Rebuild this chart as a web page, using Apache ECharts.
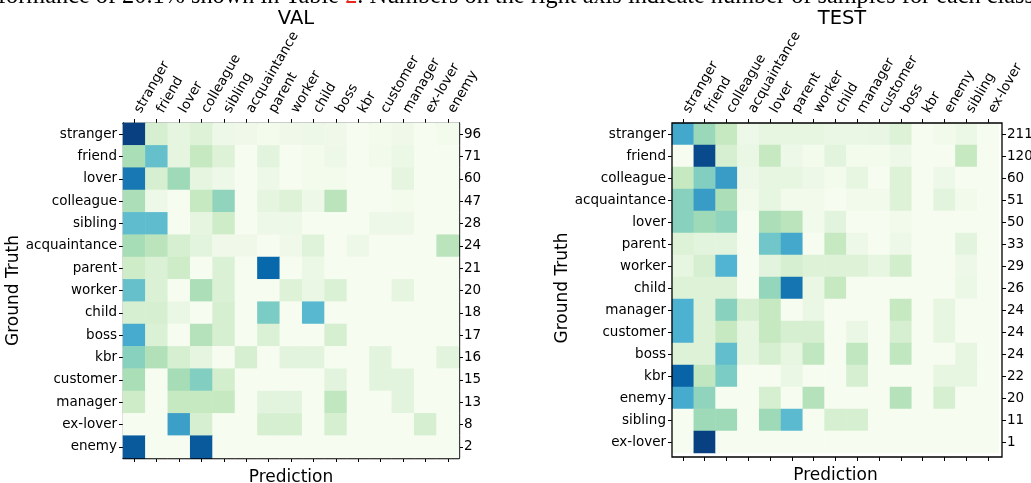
<!DOCTYPE html>
<html>
<head>
<meta charset="utf-8">
<script src="https://cdn.jsdelivr.net/npm/echarts@6/dist/echarts.min.js"></script>
<style>
html,body{margin:0;padding:0;background:#fff;}
#c{width:1031px;height:483px;}
</style>
</head>
<body>
<div id="c"></div>
<script>
// ---------- DATA ----------
const valCats = ['stranger','friend','lover','colleague','sibling','acquaintance','parent','worker','child','boss','kbr','customer','manager','ex-lover','enemy'];
const valCounts = ['96','71','60','47','28','24','21','20','18','17','16','15','13','8','2'];
// rows = ground truth, cols = prediction (normalised colour level)
const valMatrix = [
  [1.00,0.18,0.10,0.14,0.05,0.04,0.02,0.04,0.05,0.04,0.00,0.02,0.04,0.00,0.02],
  [0.37,0.56,0.10,0.27,0.14,0.00,0.11,0.00,0.02,0.05,0.00,0.03,0.06,0.00,0.00],
  [0.82,0.18,0.40,0.10,0.05,0.00,0.05,0.00,0.02,0.02,0.00,0.00,0.10,0.00,0.00],
  [0.36,0.05,0.00,0.27,0.44,0.00,0.10,0.14,0.05,0.31,0.00,0.00,0.02,0.00,0.00],
  [0.58,0.58,0.00,0.10,0.24,0.00,0.05,0.05,0.00,0.00,0.00,0.05,0.05,0.00,0.00],
  [0.38,0.31,0.19,0.11,0.04,0.04,0.00,0.04,0.13,0.00,0.05,0.00,0.00,0.00,0.31],
  [0.24,0.16,0.24,0.00,0.16,0.00,0.875,0.00,0.06,0.00,0.00,0.00,0.00,0.00,0.00],
  [0.56,0.16,0.00,0.36,0.16,0.00,0.00,0.14,0.07,0.16,0.00,0.00,0.10,0.00,0.00],
  [0.18,0.18,0.07,0.00,0.18,0.00,0.50,0.00,0.60,0.00,0.00,0.00,0.00,0.00,0.00],
  [0.65,0.16,0.00,0.33,0.19,0.00,0.16,0.00,0.00,0.18,0.00,0.00,0.00,0.00,0.00],
  [0.46,0.34,0.18,0.10,0.00,0.19,0.00,0.11,0.11,0.00,0.00,0.11,0.00,0.00,0.11],
  [0.37,0.00,0.38,0.48,0.21,0.00,0.00,0.00,0.00,0.11,0.00,0.11,0.11,0.00,0.00],
  [0.24,0.00,0.27,0.27,0.27,0.00,0.11,0.11,0.00,0.29,0.00,0.00,0.11,0.00,0.00],
  [0.00,0.00,0.69,0.19,0.00,0.00,0.19,0.19,0.00,0.19,0.00,0.00,0.00,0.19,0.00],
  [0.92,0.00,0.00,0.92,0.00,0.00,0.00,0.00,0.00,0.00,0.00,0.00,0.00,0.00,0.00]
];

const testCats = ['stranger','friend','colleague','acquaintance','lover','parent','worker','child','manager','customer','boss','kbr','enemy','sibling','ex-lover'];
const testCounts = ['211','120','60','51','50','33','29','26','24','24','24','22','20','11','1'];
const testMatrix = [
  [0.66,0.41,0.27,0.05,0.09,0.09,0.09,0.07,0.07,0.08,0.14,0.00,0.03,0.06,0.00],
  [0.00,0.97,0.19,0.07,0.27,0.05,0.02,0.11,0.02,0.02,0.05,0.00,0.00,0.27,0.00],
  [0.27,0.48,0.70,0.05,0.09,0.09,0.05,0.02,0.09,0.00,0.14,0.00,0.05,0.00,0.00],
  [0.46,0.70,0.36,0.03,0.09,0.03,0.03,0.00,0.03,0.03,0.14,0.00,0.11,0.03,0.00],
  [0.46,0.40,0.44,0.00,0.36,0.31,0.03,0.11,0.00,0.00,0.03,0.00,0.00,0.00,0.00],
  [0.14,0.11,0.11,0.00,0.53,0.66,0.00,0.27,0.05,0.00,0.05,0.00,0.00,0.11,0.00],
  [0.09,0.19,0.62,0.00,0.11,0.19,0.14,0.14,0.14,0.09,0.21,0.00,0.00,0.05,0.00],
  [0.14,0.14,0.14,0.00,0.43,0.83,0.07,0.27,0.00,0.00,0.00,0.00,0.00,0.06,0.00],
  [0.63,0.14,0.46,0.19,0.27,0.00,0.07,0.00,0.00,0.00,0.27,0.00,0.09,0.00,0.00],
  [0.63,0.14,0.27,0.09,0.27,0.19,0.19,0.00,0.07,0.00,0.19,0.00,0.09,0.00,0.00],
  [0.14,0.14,0.57,0.09,0.19,0.09,0.29,0.00,0.29,0.00,0.29,0.00,0.00,0.09,0.00],
  [0.89,0.29,0.50,0.00,0.00,0.07,0.00,0.00,0.19,0.00,0.00,0.00,0.09,0.09,0.00],
  [0.65,0.44,0.00,0.00,0.19,0.00,0.33,0.00,0.00,0.00,0.33,0.00,0.19,0.00,0.00],
  [0.00,0.40,0.40,0.00,0.40,0.59,0.00,0.19,0.19,0.00,0.00,0.00,0.00,0.00,0.00],
  [0.00,1.00,0.00,0.00,0.00,0.00,0.00,0.00,0.00,0.00,0.00,0.00,0.00,0.00,0.00]
];

const panelTitles = ['VAL','TEST'];
const xName = 'Prediction';
const yName = 'Ground Truth';
const paperPre = 'formance of 20.1% shown in Table ';
const paperRef = '2';
const paperPost = '. Numbers on the right axis indicate number of samples for each class.';

// ---------- LAYOUT ----------
const FONT = 'DejaVu Sans';
const GnBu = ['#f7fcf0','#e0f3db','#ccebc5','#a8ddb5','#7bccc4','#4eb3d3','#2b8cbe','#0868ac','#084081'];
const G0 = {left:123, top:123, width:336, height:335, outerBoundsMode:'none', containLabel:false};
const G1 = {left:672, top:123, width:327, height:330, outerBoundsMode:'none', containLabel:false};
const F1 = {x:672, y:123, w:330, h:334}; // test frame slightly larger than image

function toData(m){
  const out = [];
  m.forEach((row,i)=>row.forEach((v,j)=>out.push([j,i,v])));
  return out;
}

const labelStyle = {fontFamily:FONT, fontSize:13.5, color:'#000'};
const tick = {show:true, inside:false, length:4, alignWithLabel:true, interval:0, lineStyle:{color:'#000', width:1}};

function topX(gi, cats){
  return {type:'category', gridIndex:gi, position:'top', data:cats,
    axisLine:{show:gi===0, lineStyle:{color:'#000', width:1.3}},
    axisTick:tick, axisLabel:Object.assign({rotate:-60, margin:5, interval:0, padding:[7,0,0,7]}, labelStyle),
    splitLine:{show:false}};
}
function bottomX(gi, cats, off){
  return {type:'category', gridIndex:gi, position:'bottom', data:cats, offset:off,
    axisLine:{show:gi===0, lineStyle:{color:'#000', width:1.3}},
    axisTick:tick, axisLabel:{show:false, interval:0},
    name:xName, nameLocation:'middle', nameGap:gi===0?11:10,
    nameTextStyle:{fontFamily:FONT, fontSize:17, color:'#000'}};
}
function leftY(gi, cats){
  return {type:'category', gridIndex:gi, position:'left', data:cats, inverse:true,
    axisLine:{show:gi===0, lineStyle:{color:'#000', width:1.3}},
    axisTick:tick, axisLabel:Object.assign({margin:6, interval:0}, labelStyle),
    name:yName, nameLocation:'middle', nameRotate:90, nameGap:gi===0?98:100,
    nameTextStyle:{fontFamily:FONT, fontSize:17, color:'#000'}};
}
function rightY(gi, counts, off){
  return {type:'category', gridIndex:gi, position:'right', data:counts, inverse:true, offset:off,
    axisLine:{show:gi===0, lineStyle:{color:'#000', width:1.3}},
    axisTick:tick, axisLabel:Object.assign({margin:5, interval:0}, labelStyle)};
}

const option = {
  animation:false,
  backgroundColor:'#fff',
  title:[
    {text:panelTitles[0], left:291, top:4, textAlign:'center', textStyle:{fontFamily:FONT, fontSize:19.5, fontWeight:'normal', color:'#000'}},
    {text:panelTitles[1], left:837, top:4, textAlign:'center', textStyle:{fontFamily:FONT, fontSize:19.5, fontWeight:'normal', color:'#000'}}
  ],
  grid:[G0, G1],
  xAxis:[topX(0,valCats), bottomX(0,valCats,0), topX(1,testCats), bottomX(1,testCats,4)],
  yAxis:[leftY(0,valCats), rightY(0,valCounts,0), leftY(1,testCats), rightY(1,testCounts,3)],
  visualMap:{show:false, min:0, max:1, seriesIndex:[0,1], inRange:{color:GnBu}},
  series:[
    {type:'heatmap', xAxisIndex:0, yAxisIndex:0, data:toData(valMatrix), itemStyle:{borderWidth:0}, emphasis:{disabled:true}},
    {type:'heatmap', xAxisIndex:2, yAxisIndex:2, data:toData(testMatrix), itemStyle:{borderWidth:0}, emphasis:{disabled:true}}
  ],
  graphic:[
    {type:'rect', shape:{x:F1.x, y:F1.y, width:F1.w, height:F1.h}, style:{fill:null, stroke:'#000', lineWidth:1.3}, z:100, silent:true},
    {type:'text', x:-2, y:9, silent:true,
      style:{text:'{a|'+paperPre+'}{r|'+paperRef+'}{a|'+paperPost+'}', verticalAlign:'bottom',
        rich:{a:{fontFamily:'Liberation Serif', fontSize:24.3, fill:'#000'}, r:{fontFamily:'Liberation Serif', fontSize:24.3, fill:'#e8261e'}}}}
  ]
};

const chart = echarts.init(document.getElementById('c'), null, {renderer:'canvas'});
chart.setOption(option);
</script>
</body>
</html>
